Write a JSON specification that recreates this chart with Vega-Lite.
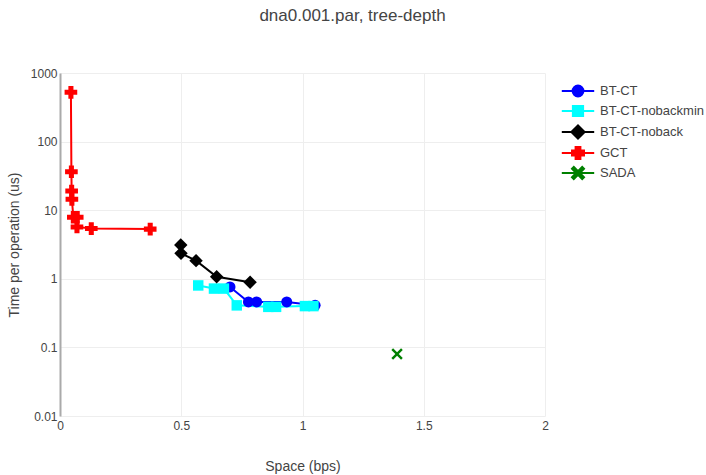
{
  "$schema": "https://vega.github.io/schema/vega-lite/v6.json",
  "width": 485,
  "height": 343,
  "autosize": "none",
  "padding": {"left": 60, "top": 73, "right": 161, "bottom": 59},
  "background": "white",
  "title": {
    "text": "dna0.001.par, tree-depth",
    "anchor": "middle",
    "dx": 50,
    "offset": 42,
    "font": "Liberation Sans",
    "fontSize": 17,
    "fontWeight": "normal",
    "color": "#444"
  },
  "config": {
    "view": {"stroke": null},
    "font": "Liberation Sans"
  },
  "data": {
    "values": [
      {"series": "BT-CT", "i": 0, "space": 0.701, "time": 0.76},
      {"series": "BT-CT", "i": 1, "space": 0.777, "time": 0.46},
      {"series": "BT-CT", "i": 2, "space": 0.811, "time": 0.46},
      {"series": "BT-CT", "i": 3, "space": 0.935, "time": 0.46},
      {"series": "BT-CT", "i": 4, "space": 1.052, "time": 0.41},
      {"series": "BT-CT-nobackmin", "i": 0, "space": 0.570, "time": 0.80},
      {"series": "BT-CT-nobackmin", "i": 1, "space": 0.635, "time": 0.72},
      {"series": "BT-CT-nobackmin", "i": 2, "space": 0.676, "time": 0.72},
      {"series": "BT-CT-nobackmin", "i": 3, "space": 0.729, "time": 0.41},
      {"series": "BT-CT-nobackmin", "i": 4, "space": 0.859, "time": 0.39},
      {"series": "BT-CT-nobackmin", "i": 5, "space": 0.891, "time": 0.39},
      {"series": "BT-CT-nobackmin", "i": 6, "space": 1.010, "time": 0.40},
      {"series": "BT-CT-nobackmin", "i": 7, "space": 1.045, "time": 0.40},
      {"series": "BT-CT-noback", "i": 0, "space": 0.498, "time": 3.11},
      {"series": "BT-CT-noback", "i": 1, "space": 0.499, "time": 2.35},
      {"series": "BT-CT-noback", "i": 2, "space": 0.561, "time": 1.84},
      {"series": "BT-CT-noback", "i": 3, "space": 0.646, "time": 1.07},
      {"series": "BT-CT-noback", "i": 4, "space": 0.784, "time": 0.89},
      {"series": "GCT", "i": 0, "space": 0.045, "time": 523},
      {"series": "GCT", "i": 1, "space": 0.047, "time": 36.4},
      {"series": "GCT", "i": 2, "space": 0.048, "time": 19.0},
      {"series": "GCT", "i": 3, "space": 0.049, "time": 14.4},
      {"series": "GCT", "i": 4, "space": 0.055, "time": 7.9},
      {"series": "GCT", "i": 5, "space": 0.071, "time": 7.9},
      {"series": "GCT", "i": 6, "space": 0.070, "time": 5.7},
      {"series": "GCT", "i": 7, "space": 0.129, "time": 5.4},
      {"series": "GCT", "i": 8, "space": 0.372, "time": 5.3},
      {"series": "SADA", "i": 0, "space": 1.39, "time": 0.080}
    ]
  },
  "encoding": {
    "x": {
      "field": "space",
      "type": "quantitative",
      "scale": {"domain": [0, 2], "nice": false, "zero": false},
      "axis": {
        "title": "Space (bps)",
        "values": [0, 0.5, 1, 1.5, 2],
        "format": "~g",
        "labelFlush": false,
        "domain": false,
        "ticks": false,
        "grid": true,
        "gridColor": "#eee",
        "gridWidth": 1,
        "labelFont": "Liberation Sans",
        "labelFontSize": 12,
        "labelColor": "#444",
        "labelPadding": 4,
        "titleFont": "Liberation Sans",
        "titleFontSize": 14,
        "titleFontWeight": "normal",
        "titleColor": "#444",
        "titlePadding": 28
      }
    },
    "y": {
      "field": "time",
      "type": "quantitative",
      "scale": {"type": "log", "domain": [0.01, 1000], "nice": false},
      "axis": {
        "title": "Time per operation (us)",
        "values": [0.01, 0.1, 1, 10, 100, 1000],
        "format": "~g",
        "labelFlush": false,
        "domain": true,
        "domainColor": "#aaa",
        "domainWidth": 2,
        "ticks": false,
        "grid": true,
        "gridColor": "#eee",
        "gridWidth": 1,
        "labelFont": "Liberation Sans",
        "labelFontSize": 12,
        "labelColor": "#444",
        "labelPadding": 3,
        "titleFont": "Liberation Sans",
        "titleFontSize": 14,
        "titleFontWeight": "normal",
        "titleColor": "#444",
        "titlePadding": 9
      }
    },
    "color": {
      "field": "series",
      "type": "nominal",
      "scale": {
        "domain": ["BT-CT", "BT-CT-nobackmin", "BT-CT-noback", "GCT", "SADA"],
        "range": ["#0000ff", "#00ffff", "#000000", "#ff0000", "#008000"]
      },
      "legend": {
        "orient": "none",
        "legendX": 511,
        "legendY": 11,
        "title": null,
        "symbolSize": 144,
        "symbolStrokeWidth": 2,
        "labelFont": "Liberation Sans",
        "labelFontSize": 13,
        "labelColor": "#444",
        "labelOffset": 15,
        "rowPadding": 0,
        "labelLimit": 300,
        "encode": {
          "symbols": {
            "update": {
              "shape": {"signal": "datum.value === 'BT-CT' ? 'M-2.7,0L2.7,0M-0.9,0A0.9,0.9,0,1,0,0.9,0A0.9,0.9,0,1,0,-0.9,0Z' : datum.value === 'BT-CT-nobackmin' ? 'M-2.7,0L2.7,0M-0.85,-0.85L0.85,-0.85L0.85,0.85L-0.85,0.85Z' : datum.value === 'BT-CT-noback' ? 'M-2.7,0L2.7,0M-1.1,0L0,-1.1L1.1,0L0,1.1Z' : datum.value === 'GCT' ? 'M-2.7,0L2.7,0M-1,-0.4L-0.4,-0.4L-0.4,-1L0.4,-1L0.4,-0.4L1,-0.4L1,0.4L0.4,0.4L0.4,1L-0.4,1L-0.4,0.4L-1,0.4Z' : 'M-2.7,0L2.7,0M-1,-0.7L-0.7,-1L0,-0.3L0.7,-1L1,-0.7L0.3,0L1,0.7L0.7,1L0,0.3L-0.7,1L-1,0.7L-0.3,0Z'"},
              "size": {"value": 144},
              "fill": {"signal": "scale('color', datum.value)"},
              "stroke": {"signal": "scale('color', datum.value)"},
              "strokeWidth": {"value": 2},
              "opacity": {"value": 1}
            }
          }
        }
      }
    }
  },
  "layer": [
    {
      "mark": {"type": "line", "strokeWidth": 2},
      "encoding": {
        "order": {"field": "i", "type": "quantitative"}
      }
    },
    {
      "mark": {
        "type": "point",
        "filled": true,
        "opacity": 1,
        "strokeWidth": 0,
        "shape": {"expr": "datum.series === 'BT-CT' ? 'circle' : datum.series === 'BT-CT-nobackmin' ? 'square' : datum.series === 'BT-CT-noback' ? 'diamond' : datum.series === 'GCT' ? 'cross' : 'M-1,-0.7L-0.7,-1L0,-0.3L0.7,-1L1,-0.7L0.3,0L1,0.7L0.7,1L0,0.3L-0.7,1L-1,0.7L-0.3,0Z'"},
        "size": {"expr": "datum.series === 'BT-CT' ? 121 : datum.series === 'BT-CT-nobackmin' ? 110 : datum.series === 'BT-CT-noback' ? 180 : datum.series === 'GCT' ? 160 : 130"}
      }
    }
  ]
}
